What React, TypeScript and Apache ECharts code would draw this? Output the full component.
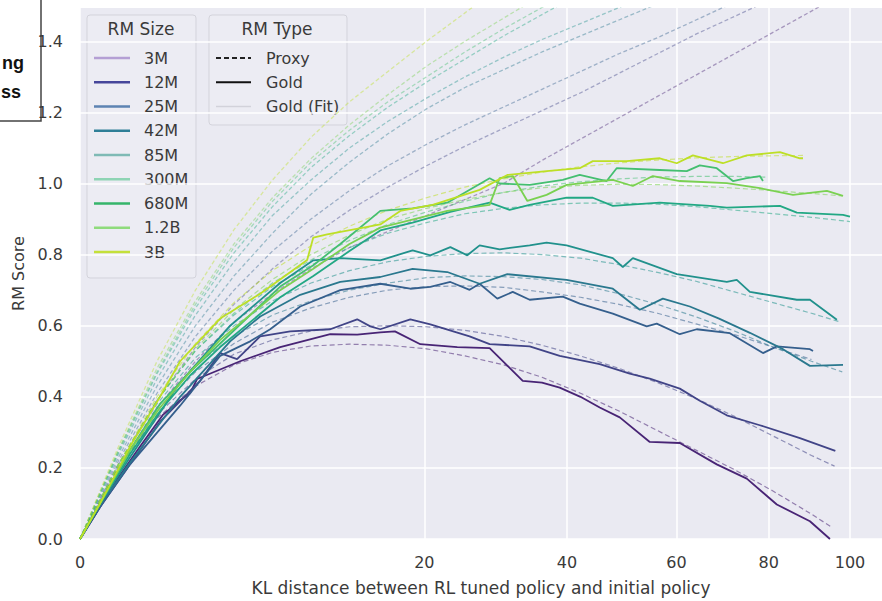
import React, { useEffect, useRef } from 'react';
import * as echarts from 'echarts';

// ---------- data (x = sqrt of KL distance, y = RM score) ----------
const rmSizes = ['3M', '12M', '25M', '42M', '85M', '300M', '680M', '1.2B', '3B'];
const rmColors = ['#482475', '#414487', '#355f8d', '#2a788e', '#21918c', '#22a884', '#44bf70', '#7ad151', '#bddf26'];
const legendColors = ['#b49fd4', '#46469a', '#5d83b2', '#2f7f97', '#7fbab5', '#8ed4b4', '#35b56a', '#8fdb7c', '#c4e03a'];
const rmTypes = ['Proxy', 'Gold', 'Gold (Fit)'];

const xTickKL = [0, 20, 40, 60, 80, 100];
const yTicks = [0, 0.2, 0.4, 0.6, 0.8, 1.0, 1.2, 1.4];

const gold3M = [[0,0],[0.26,0.09],[0.49,0.17],[0.78,0.26],[1.08,0.35],[1.3,0.39],[1.43,0.41],[1.52,0.45],[2.08,0.5],[2.6,0.54],[3.25,0.576],[3.6,0.575],[3.9,0.581],[4.09,0.584],[4.42,0.548],[4.9,0.54],[5.32,0.537],[5.75,0.445],[6.0,0.44],[6.23,0.426],[6.5,0.4],[6.75,0.37],[7.01,0.342],[7.4,0.273],[7.79,0.27],[8.27,0.21],[8.66,0.17],[9.05,0.097],[9.48,0.05],[9.74,0.0]];
const gold12M = [[0,0],[0.26,0.09],[0.52,0.17],[1.04,0.33],[1.56,0.445],[1.82,0.523],[2.04,0.506],[2.34,0.57],[2.73,0.584],[3.25,0.59],[3.6,0.618],[3.77,0.598],[3.9,0.59],[4.29,0.618],[4.55,0.604],[5.06,0.57],[5.32,0.548],[5.84,0.542],[6.23,0.515],[6.75,0.492],[7.14,0.465],[7.4,0.451],[7.79,0.423],[8.05,0.389],[8.4,0.348],[8.83,0.32],[9.35,0.284],[9.81,0.248]];
const gold25M = [[0,0],[0.26,0.09],[0.65,0.21],[1.3,0.375],[1.82,0.515],[2.21,0.556],[2.47,0.59],[2.86,0.654],[3.38,0.7],[3.9,0.718],[4.29,0.704],[4.55,0.709],[4.81,0.723],[5.06,0.701],[5.19,0.718],[5.42,0.676],[5.62,0.695],[5.84,0.673],[6.27,0.682],[6.49,0.662],[6.92,0.634],[7.36,0.598],[7.49,0.606],[7.79,0.576],[8.01,0.59],[8.44,0.579],[8.87,0.523],[9.05,0.542],[9.48,0.534],[9.52,0.529]];
const gold42M = [[0,0],[0.26,0.095],[0.65,0.215],[1.3,0.4],[1.95,0.556],[2.34,0.626],[2.86,0.687],[3.38,0.723],[3.9,0.737],[4.32,0.76],[4.77,0.751],[5.19,0.718],[5.55,0.745],[6.32,0.729],[6.92,0.704],[7.27,0.645],[7.57,0.676],[7.92,0.654],[8.3,0.62],[8.7,0.58],[9.13,0.534],[9.48,0.487],[9.91,0.49]];
const gold85M = [[0,0],[0.26,0.1],[0.65,0.23],[1.3,0.44],[1.95,0.6],[2.6,0.72],[3.03,0.784],[3.38,0.79],[3.9,0.784],[4.32,0.812],[4.55,0.798],[4.81,0.821],[5.03,0.798],[5.19,0.826],[5.45,0.815],[5.84,0.826],[6.06,0.834],[6.32,0.826],[6.92,0.79],[7.05,0.765],[7.18,0.79],[7.75,0.745],[8.4,0.723],[8.53,0.729],[8.7,0.695],[9.31,0.673],[9.48,0.673],[9.83,0.617]];
const gold300M = [[0,0],[0.26,0.1],[0.65,0.24],[1.04,0.36],[1.43,0.46],[1.82,0.54],[2.21,0.61],[2.6,0.68],[3.03,0.74],[3.5,0.81],[3.9,0.868],[4.32,0.89],[4.81,0.92],[5.32,0.946],[5.58,0.926],[5.84,0.94],[6.32,0.96],[6.66,0.96],[6.92,0.937],[7.53,0.946],[8.18,0.937],[8.4,0.932],[9.09,0.937],[9.31,0.918],[9.91,0.912],[10.0,0.907]];
const gold680M = [[0,0],[0.26,0.1],[0.65,0.25],[1.04,0.38],[1.43,0.47],[1.82,0.55],[2.21,0.63],[2.6,0.71],[3.03,0.77],[3.38,0.83],[3.9,0.923],[4.32,0.93],[4.77,0.946],[5.32,1.015],[5.45,1.0],[5.84,0.996],[6.27,1.01],[6.49,1.024],[6.84,1.007],[6.97,1.043],[7.53,1.038],[7.88,1.035],[8.05,1.051],[8.27,1.043],[8.48,1.007],[8.66,1.015],[8.83,1.021],[8.87,1.007]];
const gold1_2B = [[0,0],[0.26,0.1],[0.65,0.25],[1.04,0.37],[1.43,0.47],[1.82,0.56],[2.21,0.63],[2.6,0.7],[3.03,0.76],[3.5,0.83],[3.9,0.876],[4.77,0.923],[5.32,0.94],[5.45,1.015],[5.62,1.021],[5.81,0.951],[6.06,0.968],[6.32,0.996],[6.92,1.01],[7.18,0.993],[7.44,1.021],[7.79,1.007],[8.4,1.001],[8.83,0.987],[9.26,0.968],[9.7,0.979],[9.91,0.965]];
const gold3B = [[0,0],[0.26,0.1],[0.65,0.26],[1.04,0.4],[1.3,0.5],[1.82,0.62],[2.34,0.69],[2.95,0.785],[3.03,0.848],[3.21,0.857],[3.68,0.876],[3.9,0.885],[4.16,0.923],[4.58,0.94],[5.19,0.982],[5.55,1.024],[6.06,1.035],[6.49,1.043],[6.66,1.063],[7.1,1.063],[7.53,1.071],[7.75,1.057],[7.96,1.079],[8.35,1.057],[8.66,1.079],[9.09,1.088],[9.35,1.071],[9.39,1.071]];

const fit3M = [[0,0],[0.5,0.2],[1,0.34],[1.5,0.43],[2,0.49],[2.5,0.525],[3,0.543],[3.5,0.548],[4,0.545],[4.5,0.535],[5,0.515],[5.5,0.49],[6,0.455],[6.5,0.41],[7,0.36],[7.5,0.305],[8,0.25],[8.5,0.195],[9,0.135],[9.5,0.07],[9.75,0.035]];
const fit12M = [[0,0],[0.5,0.2],[1,0.35],[1.5,0.45],[2,0.52],[2.5,0.56],[3,0.585],[3.5,0.597],[4,0.6],[4.5,0.597],[5,0.587],[5.5,0.57],[6,0.545],[6.5,0.515],[7,0.48],[7.5,0.44],[8,0.395],[8.5,0.345],[9,0.29],[9.5,0.235],[9.8,0.205]];
const fit25M = [[0,0],[0.5,0.2],[1,0.36],[1.5,0.47],[2,0.55],[2.5,0.61],[3,0.65],[3.5,0.68],[4,0.7],[4.5,0.71],[5,0.712],[5.5,0.708],[6,0.695],[6.5,0.68],[7,0.66],[7.5,0.635],[8,0.605],[8.5,0.575],[9,0.54],[9.5,0.505]];
const fit42M = [[0,0],[0.5,0.2],[1,0.37],[1.5,0.49],[2,0.57],[2.5,0.63],[3,0.67],[3.5,0.7],[4,0.72],[4.5,0.735],[5,0.74],[5.5,0.738],[6,0.73],[6.5,0.715],[7,0.69],[7.5,0.66],[8,0.625],[8.5,0.585],[9,0.54],[9.5,0.5],[9.9,0.47]];
const fit85M = [[0,0],[0.5,0.21],[1,0.38],[1.5,0.51],[2,0.6],[2.5,0.67],[3,0.72],[3.5,0.755],[4,0.78],[4.5,0.795],[5,0.803],[5.5,0.805],[6,0.8],[6.5,0.79],[7,0.772],[7.5,0.75],[8,0.725],[8.5,0.695],[9,0.665],[9.5,0.635],[9.85,0.612]];
const fit300M = [[0,0],[0.5,0.21],[1,0.39],[1.5,0.53],[2,0.63],[2.5,0.71],[3,0.77],[3.5,0.82],[4,0.86],[4.5,0.89],[5,0.915],[5.5,0.93],[6,0.94],[6.5,0.945],[7,0.945],[7.5,0.942],[8,0.935],[8.5,0.925],[9,0.915],[9.5,0.905],[10,0.893]];
const fit680M = [[0,0],[0.5,0.21],[1,0.39],[1.5,0.53],[2,0.635],[2.5,0.72],[3,0.785],[3.5,0.84],[4,0.885],[4.5,0.92],[5,0.95],[5.5,0.975],[6,0.993],[6.5,1.005],[7,1.013],[7.5,1.018],[8,1.02],[8.5,1.02],[8.9,1.018]];
const fit1_2B = [[0,0],[0.5,0.21],[1,0.39],[1.5,0.535],[2,0.645],[2.5,0.73],[3,0.8],[3.5,0.855],[4,0.9],[4.5,0.93],[5,0.955],[5.5,0.975],[6,0.988],[6.5,0.995],[7,0.998],[7.5,0.997],[8,0.993],[8.5,0.987],[9,0.98],[9.5,0.972],[9.9,0.965]];
const fit3B = [[0,0],[0.5,0.21],[1,0.4],[1.5,0.55],[2,0.665],[2.5,0.755],[3,0.825],[3.5,0.88],[4,0.925],[4.5,0.96],[5,0.99],[5.5,1.013],[6,1.032],[6.5,1.047],[7,1.058],[7.5,1.066],[8,1.072],[8.5,1.076],[9,1.078],[9.4,1.079]];

const proxy3M = [[0,0],[0.5,0.2],[1,0.37],[1.5,0.5],[2,0.61],[2.5,0.69],[3,0.76],[3.5,0.82],[4,0.865],[4.5,0.91],[5,0.955],[5.5,1.0],[6,1.065],[6.5,1.125],[7,1.185],[7.5,1.245],[8,1.305],[8.5,1.365],[9,1.425],[9.5,1.485],[10,1.545]];
const proxy12M = [[0,0],[0.5,0.21],[1,0.39],[1.5,0.54],[2,0.66],[2.5,0.76],[3,0.85],[3.5,0.925],[4,0.99],[4.5,1.05],[5,1.105],[5.5,1.155],[6,1.205],[6.5,1.255],[7,1.31],[7.5,1.365],[8,1.42],[8.5,1.47],[9,1.52]];
const proxy25M = [[0,0],[0.5,0.22],[1,0.41],[1.5,0.57],[2,0.7],[2.5,0.81],[3,0.9],[3.5,0.98],[4,1.05],[4.5,1.11],[5,1.165],[5.5,1.215],[6,1.265],[6.5,1.315],[7,1.365],[7.5,1.41],[8,1.46],[8.5,1.51]];
const proxy42M = [[0,0],[0.5,0.23],[1,0.43],[1.5,0.6],[2,0.74],[2.5,0.86],[3,0.97],[3.5,1.06],[4,1.14],[4.5,1.21],[5,1.27],[5.5,1.32],[6,1.37],[6.5,1.415],[7,1.46],[7.5,1.505]];
const proxy85M = [[0,0],[0.5,0.24],[1,0.45],[1.5,0.63],[2,0.78],[2.5,0.91],[3,1.01],[3.5,1.1],[4,1.175],[4.5,1.24],[5,1.3],[5.5,1.355],[6,1.405],[6.5,1.45],[7,1.495],[7.5,1.54]];
const proxy300M = [[0,0],[0.5,0.245],[1,0.465],[1.5,0.65],[2,0.805],[2.5,0.935],[3,1.045],[3.5,1.135],[4,1.215],[4.5,1.285],[5,1.35],[5.5,1.415],[6,1.475],[6.5,1.535]];
const proxy680M = [[0,0],[0.5,0.25],[1,0.47],[1.5,0.66],[2,0.82],[2.5,0.95],[3,1.06],[3.5,1.15],[4,1.23],[4.5,1.3],[5,1.37],[5.5,1.435],[6,1.495],[6.5,1.55]];
const proxy1_2B = [[0,0],[0.5,0.25],[1,0.48],[1.5,0.67],[2,0.83],[2.5,0.96],[3,1.07],[3.5,1.165],[4,1.25],[4.5,1.33],[5,1.4],[5.5,1.465],[6,1.53]];
const proxy3B = [[0,0],[0.5,0.26],[1,0.5],[1.5,0.7],[2,0.87],[2.5,1.01],[3,1.13],[3.5,1.23],[4,1.315],[4.5,1.4],[5,1.48],[5.5,1.56]];

const goldData = [gold3M, gold12M, gold25M, gold42M, gold85M, gold300M, gold680M, gold1_2B, gold3B];
const fitData = [fit3M, fit12M, fit25M, fit42M, fit85M, fit300M, fit680M, fit1_2B, fit3B];
const proxyData = [proxy3M, proxy12M, proxy25M, proxy42M, proxy85M, proxy300M, proxy680M, proxy1_2B, proxy3B];

const FONT = 'DejaVu Sans';
const TXT = '#3a3a3a';

export default function App() {
  const ref = useRef<HTMLDivElement>(null);

  useEffect(() => {
    if (!ref.current) return;
    const chart = echarts.init(ref.current, null, { renderer: 'svg' });

    const series: any[] = [];
    rmSizes.forEach((name, i) => {
      series.push({
        name: name + ' proxy', type: 'line', data: proxyData[i], symbol: 'none', silent: true, z: 2,
        lineStyle: { color: rmColors[i], width: 1.3, type: [4, 2.5], opacity: 0.42 },
      });
    });
    rmSizes.forEach((name, i) => {
      series.push({
        name: name + ' fit', type: 'line', data: fitData[i], symbol: 'none', silent: true, z: 3,
        lineStyle: { color: rmColors[i], width: 1.2, type: [5, 3], opacity: 0.55 },
      });
    });
    rmSizes.forEach((name, i) => {
      series.push({
        name: name + ' gold', type: 'line', data: goldData[i], symbol: 'none', silent: true, z: 4,
        lineStyle: { color: rmColors[i], width: 1.8 },
      });
    });

    // legend drawn with graphic elements
    const legendEls: any[] = [];
    legendEls.push({ type: 'rect', shape: { x: 87, y: 15, width: 109, height: 263, r: 3 }, style: { fill: 'rgba(236,236,243,0.9)', stroke: '#d3d3db', lineWidth: 1 } });
    legendEls.push({ type: 'text', x: 141, y: 29, style: { text: 'RM Size', fontSize: 17, fontFamily: FONT, fill: TXT, align: 'center', verticalAlign: 'middle' } });
    rmSizes.forEach((name, i) => {
      const y = 58 + i * 24.25;
      legendEls.push({ type: 'line', shape: { x1: 94, y1: y, x2: 130, y2: y }, style: { stroke: legendColors[i], lineWidth: 2.5 } });
      legendEls.push({ type: 'text', x: 144, y, style: { text: name, fontSize: 16, fontFamily: FONT, fill: TXT, align: 'left', verticalAlign: 'middle' } });
    });
    legendEls.push({ type: 'rect', shape: { x: 209, y: 15, width: 138, height: 110, r: 3 }, style: { fill: 'rgba(236,236,243,0.9)', stroke: '#d3d3db', lineWidth: 1 } });
    legendEls.push({ type: 'text', x: 277, y: 29, style: { text: 'RM Type', fontSize: 17, fontFamily: FONT, fill: TXT, align: 'center', verticalAlign: 'middle' } });
    const typeStyles = [
      { stroke: '#222', lineWidth: 2, lineDash: [5, 3] },
      { stroke: '#111', lineWidth: 2.2 },
      { stroke: '#d2d2da', lineWidth: 1.5 },
    ];
    rmTypes.forEach((t, i) => {
      const y = 58 + i * 24.25;
      legendEls.push({ type: 'line', shape: { x1: 216, y1: y, x2: 251, y2: y }, style: typeStyles[i] });
      legendEls.push({ type: 'text', x: 266, y, style: { text: t, fontSize: 16, fontFamily: FONT, fill: TXT, align: 'left', verticalAlign: 'middle' } });
    });

    // cropped neighbouring panel title box
    const boxEls: any[] = [
      { type: 'rect', shape: { x: -3, y: -3, width: 44, height: 124 }, style: { fill: '#ffffff', stroke: '#444', lineWidth: 1.5 } },
      { type: 'text', x: 24, y: 63, style: { text: 'ng', fontSize: 18, fontWeight: 'bold', fontFamily: 'Liberation Sans', fill: '#111', align: 'right', verticalAlign: 'middle' } },
      { type: 'text', x: 21, y: 92, style: { text: 'ss', fontSize: 18, fontWeight: 'bold', fontFamily: 'Liberation Sans', fill: '#111', align: 'right', verticalAlign: 'middle' } },
    ];

    const xTicks = xTickKL.map((k) => Math.sqrt(k));

    chart.setOption({
      animation: false,
      backgroundColor: '#ffffff',
      grid: { left: 80, right: 0, top: 8, bottom: 56, show: true, backgroundColor: '#EAEAF2', borderWidth: 0 },
      xAxis: {
        type: 'value', min: 0, max: 10.416,
        name: 'KL distance between RL tuned policy and initial policy',
        nameLocation: 'middle', nameGap: 40,
        nameTextStyle: { fontSize: 17, fontFamily: FONT, color: TXT },
        axisLine: { show: false },
        axisTick: { show: false, customValues: xTicks },
        axisLabel: {
          customValues: xTicks, margin: 15, fontSize: 16, fontFamily: FONT, color: TXT,
          formatter: (v: number) => String(Math.round(v * v)),
        },
        splitLine: { show: true, lineStyle: { color: '#ffffff', width: 1.5 } },
      },
      yAxis: {
        type: 'value', min: 0, max: 1.4937,
        name: 'RM Score', nameLocation: 'middle', nameGap: 52,
        nameTextStyle: { fontSize: 16, fontFamily: FONT, color: TXT },
        axisLine: { show: false },
        axisTick: { show: false, customValues: yTicks },
        axisLabel: {
          customValues: yTicks, margin: 17, fontSize: 16, fontFamily: FONT, color: TXT,
          formatter: (v: number) => v.toFixed(1),
        },
        splitLine: { show: true, lineStyle: { color: '#ffffff', width: 1.5 } },
      },
      series,
      graphic: [
        { type: 'group', z: 100, children: legendEls },
        { type: 'group', z: 110, children: boxEls },
      ],
    });

    return () => chart.dispose();
  }, []);

  return <div ref={ref} style={{ position: 'fixed', left: 0, top: 0, width: 882, height: 601 }} />;
}
